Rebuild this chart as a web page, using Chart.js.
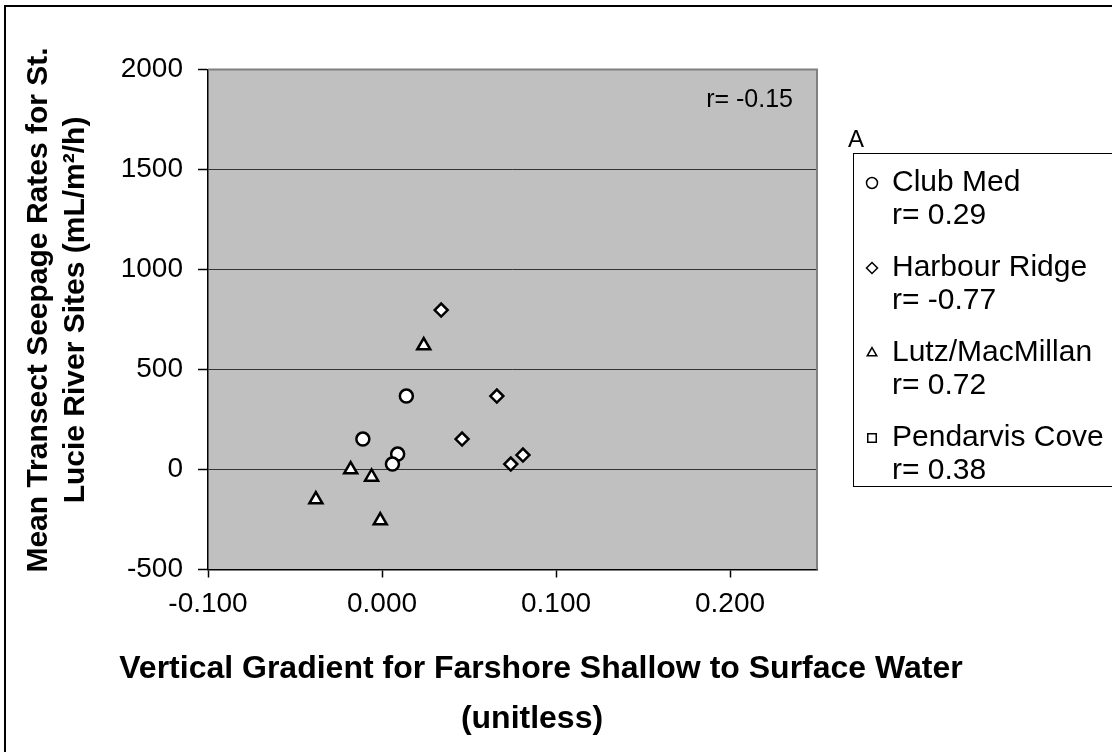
<!DOCTYPE html>
<html lang="en">
  <head>
    <meta charset="UTF-8" />
    <title>Seepage vs Vertical Gradient</title>
    <script src="https://cdn.jsdelivr.net/npm/chart.js"></script>
    <style>
      body { margin: 0; background: #fff; }
    </style>
  </head>
  <body>
    <canvas id="seepageChart" width="1112" height="752"></canvas>

    <script>
      // values
      const siteNames = ["Club Med", "Harbour Ridge", "Lutz/MacMillan", "Pendarvis Cove"];
      const siteR = ["r= 0.29", "r= -0.77", "r= 0.72", "r= 0.38"];
      const siteStyles = ["circle", "rectRot", "triangle", "rect"];

      const clubMedX = [0.014, -0.011, 0.009, 0.006];
      const clubMedY = [367, 152, 77, 27];
      const harbourX = [0.034, 0.066, 0.046, 0.074, 0.081];
      const harbourY = [797, 367, 152, 27, 72];
      const lutzX = [0.024, -0.018, -0.006, -0.038, -0.001];
      const lutzY = [620, 0, -37, -150, -255];
      const pendarvisX = [];
      const pendarvisY = [];

      const xTicks = [-0.1, 0, 0.1, 0.2];
      const yTicks = [-500, 0, 500, 1000, 1500, 2000];
      const xTitle = ["Vertical Gradient for Farshore Shallow to Surface Water", "(unitless)"];
      const yTitle = ["Mean Transect Seepage Rates for St.", "Lucie River Sites (mL/m\u00b2/h)"];
      const overallR = "r= -0.15";
      const panelLetter = "A";

      const FONT = "'Liberation Sans', Arial, sans-serif";

      function toPoints(xs, ys) {
        return xs.map((x, i) => ({ x: x, y: ys[i] }));
      }

      const seriesX = [clubMedX, harbourX, lutzX, pendarvisX];
      const seriesY = [clubMedY, harbourY, lutzY, pendarvisY];
      const radii = [6.5, 6.5, 7.5, 6];

      const datasets = siteNames.map((name, i) => ({
        label: name,
        data: toPoints(seriesX[i], seriesY[i]),
        pointStyle: siteStyles[i],
        pointRadius: radii[i],
        pointBackgroundColor: "#fff",
        pointBorderColor: "#000",
        pointBorderWidth: 2.5,
      }));

      // grey plot area, frame, titles, r label, legend
      const decorations = {
        id: "decorations",
        beforeDraw(chart) {
          const { ctx, chartArea } = chart;
          ctx.save();
          ctx.fillStyle = "#fff";
          ctx.fillRect(0, 0, chart.width, chart.height);
          ctx.fillStyle = "#c0c0c0";
          ctx.fillRect(chartArea.left, chartArea.top, chartArea.right - chartArea.left, chartArea.bottom - chartArea.top);
          // outer border
          ctx.strokeStyle = "#000";
          ctx.lineWidth = 2;
          ctx.beginPath();
          ctx.moveTo(5, chart.height);
          ctx.lineTo(5, 6);
          ctx.lineTo(chart.width, 6);
          ctx.stroke();
          ctx.restore();
        },
        afterDatasetsDraw(chart) {
          const { ctx, chartArea } = chart;
          ctx.save();
          ctx.strokeStyle = "#808080";
          ctx.lineWidth = 2;
          ctx.beginPath();
          ctx.moveTo(chartArea.left, chartArea.top);
          ctx.lineTo(chartArea.right, chartArea.top);
          ctx.lineTo(chartArea.right, chartArea.bottom);
          ctx.stroke();

          ctx.fillStyle = "#000";
          ctx.font = "25px " + FONT;
          ctx.textAlign = "right";
          ctx.textBaseline = "middle";
          ctx.fillText(overallR, chartArea.right - 24, chartArea.top + 31);

          // axis titles
          ctx.textAlign = "center";
          ctx.font = "bold 32px " + FONT;
          ctx.fillText(xTitle[0], 541, 669);
          ctx.fillText(xTitle[1], 532, 719);
          ctx.save();
          ctx.translate(0, 310);
          ctx.rotate(-Math.PI / 2);
          ctx.font = "bold 30px " + FONT;
          ctx.fillText(yTitle[0], 0, 39);
          ctx.fillText(yTitle[1], 0, 76);
          ctx.restore();

          // legend
          ctx.textAlign = "left";
          ctx.font = "24px " + FONT;
          ctx.fillText(panelLetter, 848, 140);
          ctx.strokeStyle = "#000";
          ctx.lineWidth = 1;
          ctx.strokeRect(853.5, 153.5, 400, 333);
          ctx.font = "30px " + FONT;
          siteNames.forEach((name, i) => {
            const y = 183 + i * 85;
            ctx.fillStyle = "#fff";
            ctx.strokeStyle = "#000";
            ctx.lineWidth = 1.5;
            Chart.helpers.drawPoint(ctx, { pointStyle: siteStyles[i], rotation: 0, borderWidth: 1.5, radius: siteStyles[i] === "rect" ? 6 : 5.5 }, 872, y);
            ctx.fillStyle = "#000";
            ctx.fillText(name, 892, y);
            ctx.fillText(siteR[i], 892, y + 33);
          });
          ctx.restore();
        },
      };

      new Chart(document.getElementById("seepageChart"), {
        type: "scatter",
        data: { datasets: datasets },
        options: {
          responsive: false,
          animation: false,
          layout: { padding: { left: 5, top: 69.5, right: 295, bottom: 0 } },
          plugins: {
            legend: { display: false },
            tooltip: { enabled: false },
          },
          scales: {
            x: {
              type: "linear",
              min: xTicks[0],
              max: 0.25,
              afterFit: (s) => { s.height = 182.5; },
              ticks: {
                stepSize: 0.1,
                includeBounds: false,
                color: "#000",
                padding: 10,
                font: { family: FONT, size: 28 },
                callback: (v) => v.toFixed(3),
              },
              grid: { drawOnChartArea: false, tickLength: 8, tickColor: "#000", tickWidth: 1.5 },
              border: { color: "#000", width: 1.5 },
            },
            y: {
              min: yTicks[0],
              max: yTicks[yTicks.length - 1],
              afterFit: (s) => { s.width = 203; },
              ticks: {
                stepSize: 500,
                color: "#000",
                padding: 15,
                font: { family: FONT, size: 28 },
                callback: (v) => String(v),
              },
              grid: {
                color: (c) => (c.tick && c.tick.value === 2000 ? "rgba(0,0,0,0)" : "#333"),
                lineWidth: 1,
                tickLength: 10,
                tickColor: "#000",
                tickWidth: 1.5,
              },
              border: { color: "#000", width: 1.5 },
            },
          },
        },
        plugins: [decorations],
      });
    </script>
  </body>
</html>
